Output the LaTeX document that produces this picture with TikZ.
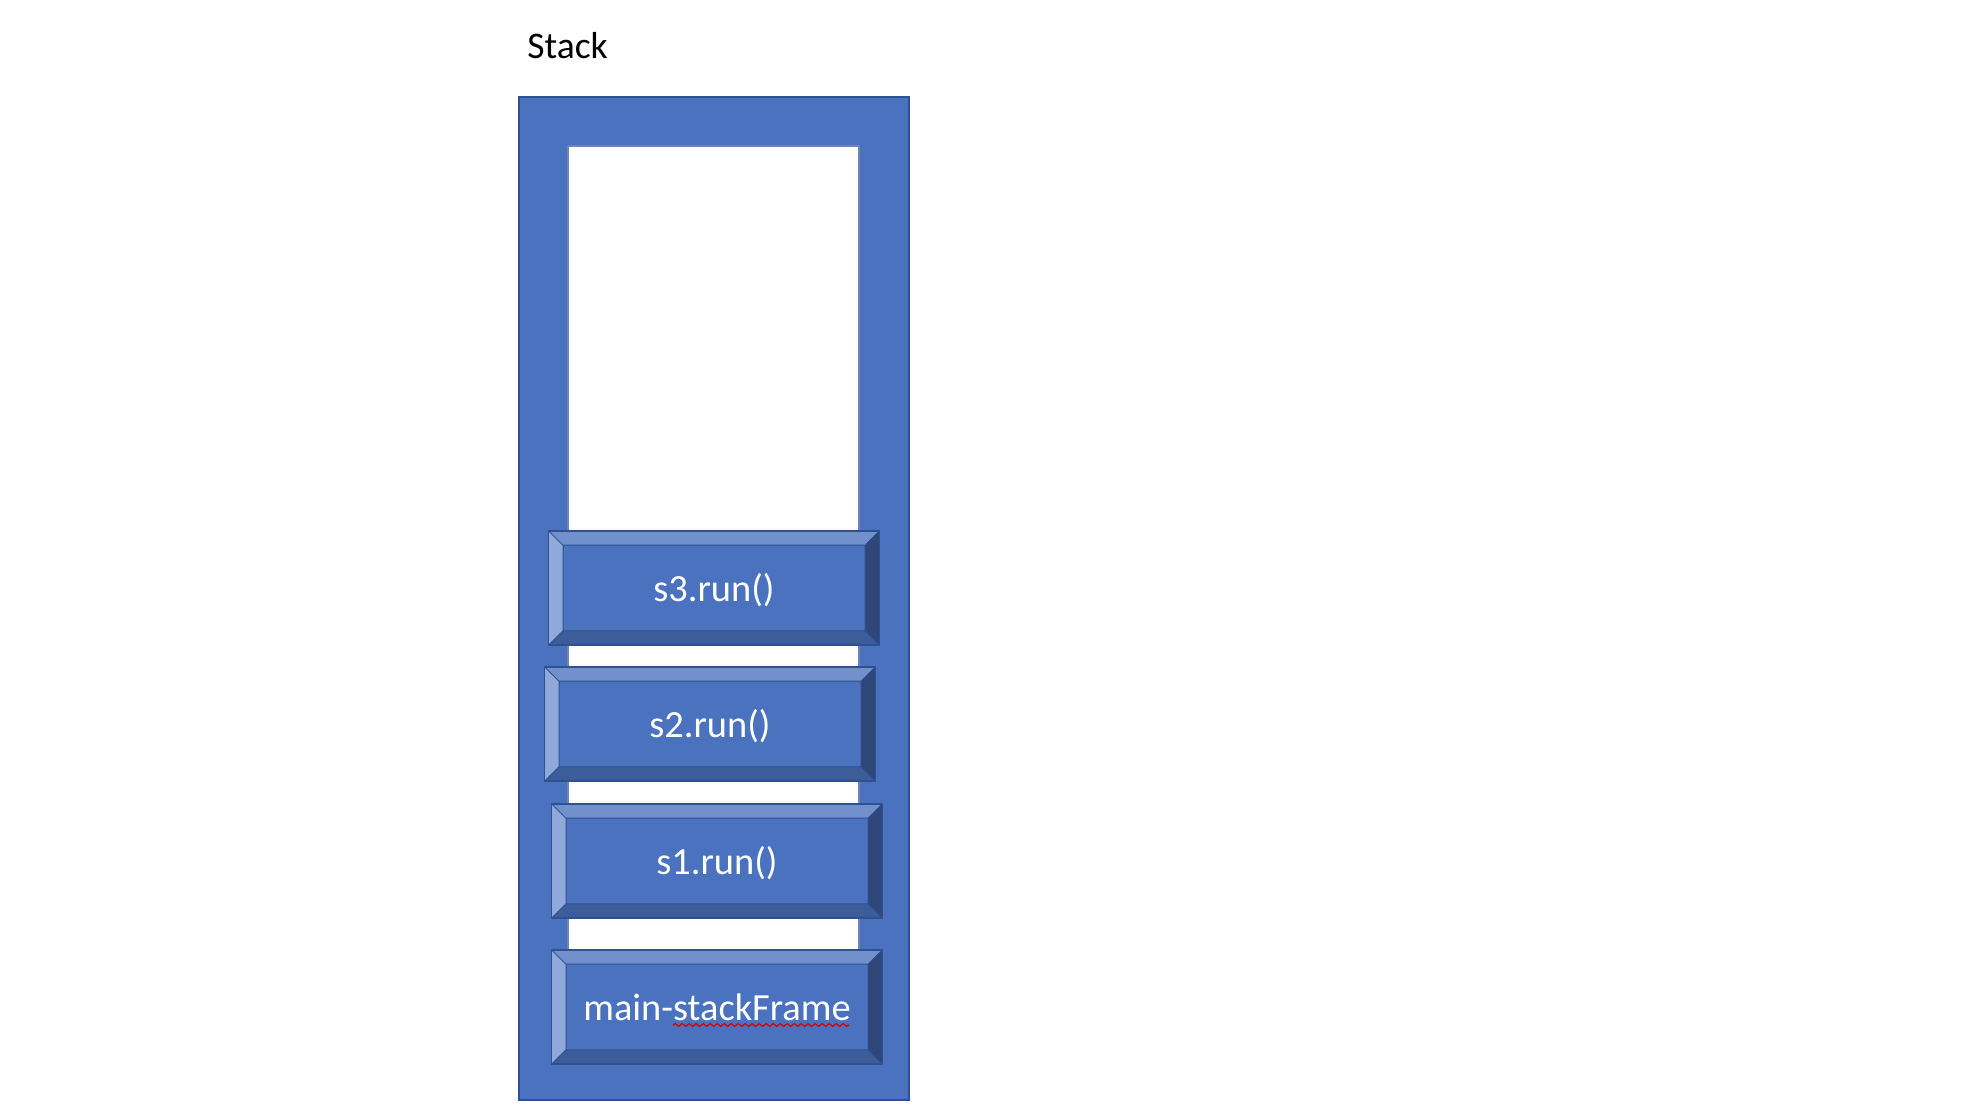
\documentclass[tikz,border=0pt]{standalone}
\usepackage{fontspec}
\setmainfont{Carlito}
\usetikzlibrary{decorations.pathmorphing}
\definecolor{mainblue}{HTML}{4A72BF}
\definecolor{edgeblue}{HTML}{2F5190}
\definecolor{toplight}{HTML}{7291CC}
\definecolor{leftlight}{HTML}{8FA9DB}
\definecolor{rightdark}{HTML}{2E4778}
\definecolor{bottomdark}{HTML}{3D5C9A}
\definecolor{inneredge}{HTML}{6F86B3}
\newcommand{\bev}{7.25pt}
\tikzset{
  stacklabel/.style={font=\fontsize{18.8pt}{22pt}\selectfont, text=black, inner sep=0pt, anchor=base west},
  stackouter/.style={draw=edgeblue, line width=0.8pt, fill=mainblue},
  stackinner/.style={draw=inneredge, line width=0.6pt, fill=white},
  bevelbox/.style={draw=edgeblue, line width=0.9pt, fill=mainblue, text=white,
    font=\fontsize{19.2pt}{22pt}\selectfont, minimum width=165.5pt, minimum height=57.3pt,
    inner sep=0pt, text height=13pt, text depth=0pt,
    path picture={
      \path (path picture bounding box.south west) coordinate (bbsw)
            (path picture bounding box.north east) coordinate (bbne)
            (bbsw|-bbne) coordinate (bbnw)
            (bbne|-bbsw) coordinate (bbse)
            ([shift={(\bev,\bev)}]bbsw) coordinate (isw)
            ([shift={(-\bev,-\bev)}]bbne) coordinate (ine)
            (isw|-ine) coordinate (inw)
            (ine|-isw) coordinate (ise);
      \fill[toplight] (bbnw) -- (bbne) -- (ine) -- (inw) -- cycle;
      \fill[leftlight] (bbnw) -- (inw) -- (isw) -- (bbsw) -- cycle;
      \fill[rightdark] (bbne) -- (bbse) -- (ise) -- (ine) -- cycle;
      \fill[bottomdark] (bbsw) -- (isw) -- (ise) -- (bbse) -- cycle;
      \draw[edgeblue, line width=0.5pt] (inw) rectangle (ise)
        (bbnw) -- (inw) (bbne) -- (ine) (bbsw) -- (isw) (bbse) -- (ise);
    }},
}
\begin{document}
\begin{tikzpicture}[x=0.5pt, y=-0.5pt]
  \useasboundingbox (0,0) rectangle (1982,1116);
  \node[stacklabel] (title) at (527,58) {Stack};
  \draw[stackouter] (519,97) rectangle (909,1100);
  \draw[stackinner] (568,146) rectangle (859,955);
  \node[bevelbox] (s3) at (714,588) {s3.run()};
  \node[bevelbox] (s2) at (710,724) {s2.run()};
  \node[bevelbox] (s1) at (717,861) {s1.run()};
  \node[bevelbox] (main) at (717,1007) {main-stackFrame};
  \draw[red!85!black, line width=0.6pt, decorate,
        decoration={snake, amplitude=0.7pt, segment length=3.5pt}]
        (673,1025) -- (849,1025);
\end{tikzpicture}
\end{document}
